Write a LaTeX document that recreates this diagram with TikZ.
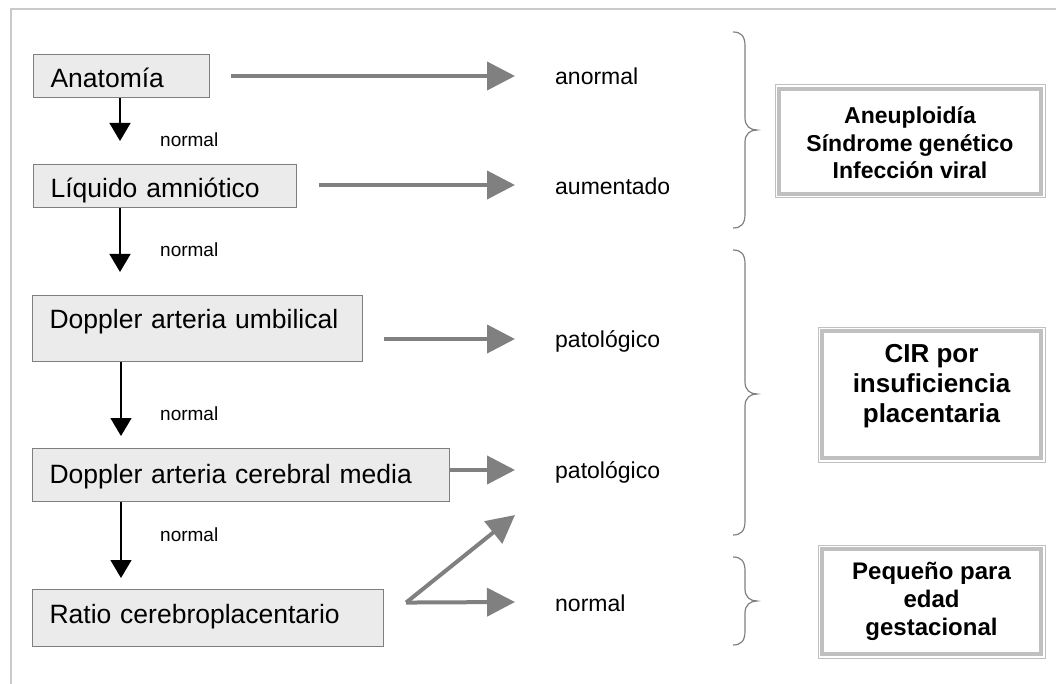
\documentclass[tikz,border=0pt]{standalone}
\usepackage{fontspec}
\setmainfont{Liberation Sans}
\usetikzlibrary{arrows.meta}
\definecolor{boxfill}{HTML}{EBEBEB}
\definecolor{boxline}{HTML}{7F7F7F}
\definecolor{arrgray}{HTML}{808080}
\definecolor{resline}{HTML}{C0C0C0}
\definecolor{framegray}{HTML}{CACACA}
\definecolor{bracegray}{HTML}{808080}
\newcommand\bracepath[3]{(733,#1) .. controls (741,#1) and (745,#1+4) .. (745,#1+14) -- (745,#2-12) .. controls (745,#2-4) and (750,#2) .. (757,#2) .. controls (750,#2) and (745,#2+4) .. (745,#2+12) -- (745,#3-14) .. controls (745,#3-4) and (741,#3) .. (733,#3)}
\begin{document}
\begin{tikzpicture}[x=1pt,y=-1pt,
  stepbox/.style={draw=boxline, fill=boxfill, line width=1.1pt, anchor=north west,
    inner xsep=17pt, inner ysep=0pt, align=left, font=\fontsize{26.5}{31}\selectfont, text=black},
  garrow/.style={draw=arrgray, line width=4pt, -{Triangle[width=28pt,length=28pt]}},
  barrow/.style={draw=black, line width=1.3pt, -{Triangle[width=21pt,length=18pt]}},
  small/.style={font=\fontsize{19}{23}\selectfont, anchor=base west, inner sep=0pt},
  outlab/.style={font=\fontsize{23}{27}\selectfont, anchor=base west, inner sep=0pt},
  resframe/.style={draw=resline, line width=1pt, inner sep=0pt},
  resthick/.style={draw=resline, line width=4.5pt},
  restext/.style={align=center, inner sep=0pt, text=black},
  bracestyle/.style={draw=bracegray, line width=1.2pt}
]
\useasboundingbox (0,0) rectangle (1056,684);
% outer frame (top and left)
\draw[framegray, line width=2pt] (10.5,684) -- (10.5,9.5) -- (1056,9.5);

% step boxes
\node[stepbox, text width=142pt, minimum height=43pt, text height=29pt, text depth=5.5pt] (anat) at (33,54) {Anatomía};
\node[stepbox, text width=229pt, minimum height=43pt, text height=29pt, text depth=5.5pt] (liq) at (33,164) {Líquido amniótico};
\node[stepbox, text width=296pt, minimum height=66pt, text height=18pt, text depth=18pt] (umb) at (32,295) {Doppler arteria umbilical};
\node[stepbox, text width=383pt, minimum height=53pt, text height=22pt, text depth=5pt] (cer) at (32,448) {Doppler arteria cerebral media};
\node[stepbox, text width=317pt, minimum height=57pt, text height=17pt, text depth=6pt] (rat) at (32,589) {Ratio cerebroplacentario};

% black down arrows
\coordinate (a1) at (120,141);
\coordinate (a2) at (120,272);
\coordinate (a3) at (121,436);
\coordinate (a4) at (121,578);
\draw[barrow] (anat.south -| a1) -- (a1);
\draw[barrow] (liq.south -| a2) -- (a2);
\draw[barrow] (umb.south -| a3) -- (a3);
\draw[barrow] (cer.south -| a4) -- (a4);
\node[small] (n1) at (160,147) {normal};
\node[small] (n2) at (160,257) {normal};
\node[small] (n3) at (160,420) {normal};
\node[small] (n4) at (160,541) {normal};

% gray arrows
\coordinate (t1) at (515,76);
\coordinate (t2) at (515,185);
\coordinate (t3) at (515,339);
\coordinate (t4) at (515,470);
\coordinate (t5) at (515,602);
\coordinate (t6) at (515,515);
\coordinate (rs) at ([xshift=22pt,yshift=15.5pt]rat.east);
\draw[garrow] ([xshift=21pt]anat.east |- t1) -- (t1);
\draw[garrow] ([xshift=22pt]liq.east |- t2) -- (t2);
\draw[garrow] ([xshift=21pt]umb.east |- t3) -- (t3);
\draw[garrow] (cer.east |- t4) -- (t4);
\draw[garrow] (rs) -- (t6);
\draw[garrow] (rs) -- (t5);

\node[outlab] (o1) at (555,85) {anormal};
\node[outlab] (o2) at (555,195) {aumentado};
\node[outlab] (o3) at (555,347) {patológico};
\node[outlab] (o4) at (555,478) {patológico};
\node[outlab] (o5) at (555,611) {normal};

% braces
\draw[bracestyle] \bracepath{32}{130}{228};
\draw[bracestyle] \bracepath{250}{394}{535};
\draw[bracestyle] \bracepath{557}{601}{645};

% result boxes
\node[resframe, minimum width=270pt, minimum height=113pt] (r1) at (910,141.5) {};
\node[resframe, minimum width=227pt, minimum height=135pt] (r2) at (931.5,394.5) {};
\node[resframe, minimum width=227pt, minimum height=113pt] (r3) at (931.5,601.5) {};
\foreach \r in {r1,r2,r3}{
  \draw[resthick] ([shift={(4.5pt,-4.5pt)}]\r.north west) rectangle ([shift={(-4.5pt,4.5pt)}]\r.south east);
}
\node[restext, font=\bfseries\fontsize{23}{27.5}\selectfont] (r1t) at (910,143) {Aneuploidía\\Síndrome genético\\Infección viral};
\node[restext, font=\bfseries\fontsize{26}{30}\selectfont] (r2t) at (931.5,386) {CIR por\\insuficiencia\\placentaria};
\node[restext, font=\bfseries\fontsize{24}{28}\selectfont] (r3t) at (931.5,601) {Pequeño para\\edad\\gestacional};
\end{tikzpicture}
\end{document}
